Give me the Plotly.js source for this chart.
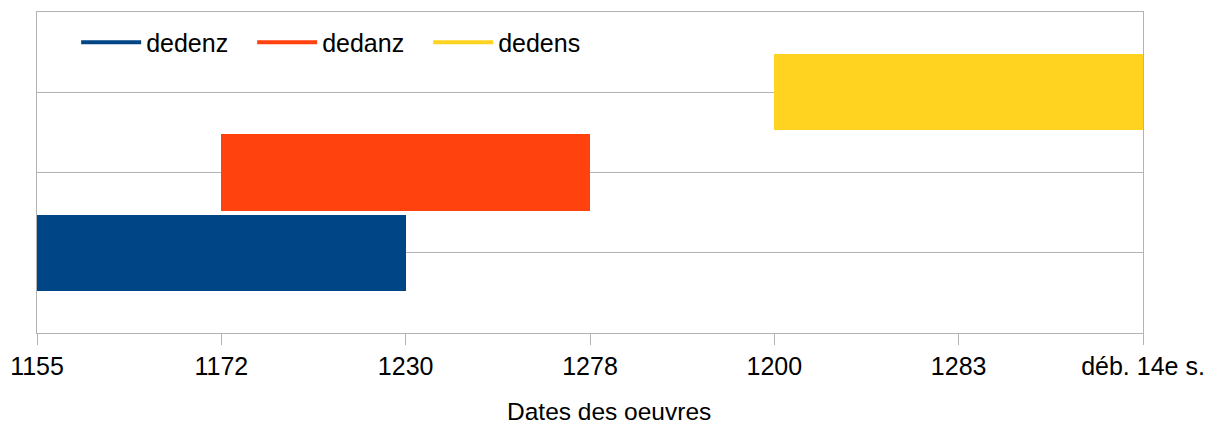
<!DOCTYPE html>
<html>
<head>
<meta charset="utf-8">
<script src="https://cdn.plot.ly/plotly-3.0.1.min.js"></script>
<style>html,body{margin:0;padding:0;background:#fff;}#chart{width:1209px;height:425px;}</style>
</head>
<body>
<div id="chart"></div>
<script>
const tickLabels = ["1155", "1172", "1230", "1278", "1200", "1283", "déb. 14e s."];
const seriesNames = ["dedenz", "dedanz", "dedens"];
const rowPos = [1, 2, 3];
const startIdx = [0, 1, 4];
const endIdx = [2, 3, 6];
const colors = ["#004586", "#ff420e", "#ffd320"];
const xTitle = "Dates des oeuvres";

const traces = [];
seriesNames.forEach((name, i) => {
  traces.push({
    type: "bar",
    orientation: "h",
    y: [rowPos[i]],
    x: [endIdx[i] - startIdx[i]],
    base: [startIdx[i]],
    width: 0.95,
    marker: {color: colors[i], line: {width: 0}},
    showlegend: false,
    hoverinfo: "skip",
    name: name
  });
});
seriesNames.forEach((name, i) => {
  traces.push({
    type: "scatter",
    mode: "lines",
    x: [null],
    y: [null],
    line: {color: colors[i], width: 4},
    name: name,
    showlegend: true
  });
});

const layout = {
  width: 1209,
  height: 425,
  margin: {l: 37, r: 66, t: 12, b: 92},
  paper_bgcolor: "#ffffff",
  plot_bgcolor: "#ffffff",
  font: {family: "Liberation Sans, Arial, sans-serif", size: 25, color: "#000000"},
  showlegend: true,
  legend: {
    orientation: "h",
    x: 0.0354, y: 0.905, xanchor: "left", yanchor: "middle",
    bgcolor: "rgba(0,0,0,0)",
    font: {size: 25},
    itemwidth: 60,
    entrywidth: 101,
    entrywidthmode: "pixels",
    tracegroupgap: 0
  },
  xaxis: {
    range: [0, 6],
    tickmode: "array",
    tickvals: tickLabels.map((_, i) => i),
    ticktext: tickLabels,
    showgrid: false,
    zeroline: false,
    showline: true,
    mirror: true,
    linecolor: "#b3b3b3",
    linewidth: 1,
    ticks: "outside",
    ticklen: 11,
    tickcolor: "#b3b3b3",
    tickfont: {size: 25},
    fixedrange: true
  },
  yaxis: {
    range: [0, 4],
    tickmode: "array",
    tickvals: [1, 2, 3],
    showticklabels: false,
    showgrid: true,
    gridcolor: "#b3b3b3",
    gridwidth: 1,
    zeroline: false,
    showline: true,
    mirror: true,
    linecolor: "#b3b3b3",
    linewidth: 1,
    ticks: "",
    fixedrange: true
  },
  annotations: [{
    text: xTitle,
    xref: "paper", yref: "paper",
    x: 0.5176, y: -0.246,
    xanchor: "center", yanchor: "middle",
    showarrow: false,
    font: {size: 24.5, color: "#000000"}
  }],
  bargap: 0
};

Plotly.newPlot("chart", traces, layout, {displayModeBar: false, staticPlot: true});
</script>
</body>
</html>
